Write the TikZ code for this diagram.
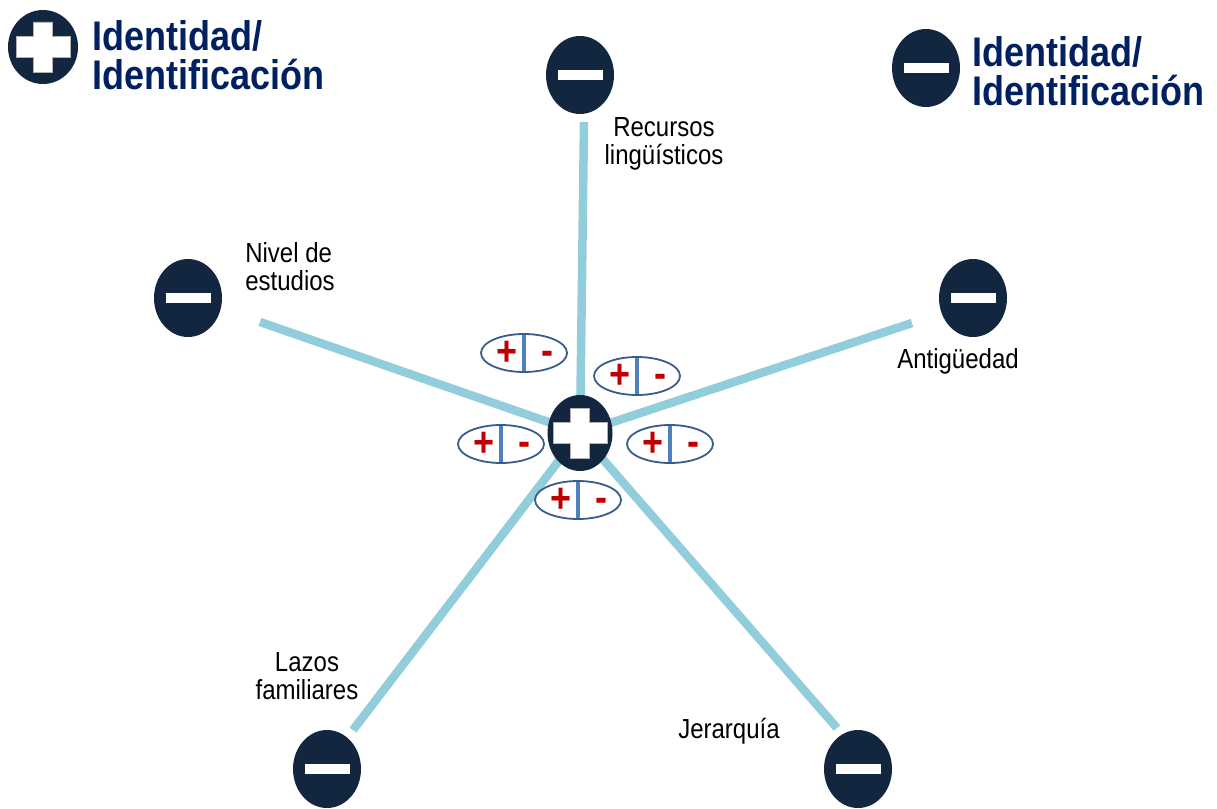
\documentclass[tikz,border=0pt]{standalone}
\usepackage{fontspec}
\setmainfont{Liberation Sans}
\usetikzlibrary{shapes.geometric}
\definecolor{idnavy}{RGB}{18,38,64}
\definecolor{idtitle}{RGB}{0,32,96}
\definecolor{idspoke}{RGB}{146,205,220}
\definecolor{idoval}{RGB}{56,93,138}
\definecolor{iddivide}{RGB}{79,129,189}
\definecolor{idred}{RGB}{192,0,0}

\begin{document}
\begin{tikzpicture}[x=1pt, y=-1pt,
        badge/.style={ellipse, fill=idnavy, inner sep=0pt, minimum width=68pt, minimum height=78pt},
        minusbadge/.style={badge, path picture={
            \fill[white, shift={(path picture bounding box.center)}] (-22.5,-5) rectangle (22.5,5);}},
        plusbadge/.style={badge, path picture={
            \filldraw[white, draw=gray!60, line width=0.6pt, shift={(path picture bounding box.center)}]
              (-9.5,-25) -- (9.5,-25) -- (9.5,-10.5) -- (27,-10.5) -- (27,10.5) -- (9.5,10.5)
              -- (9.5,25) -- (-9.5,25) -- (-9.5,10.5) -- (-27,10.5) -- (-27,-10.5) -- (-9.5,-10.5) -- cycle;}},
        pmoval/.style={ellipse, draw=idoval, line width=1.8pt, fill=white, inner sep=0pt,
            minimum width=86pt, minimum height=38pt, path picture={
            \draw[iddivide, line width=3.8pt] (path picture bounding box.north) -- (path picture bounding box.south);
            \node[text=idred, inner sep=0pt, yscale=1.15, font=\fontsize{36}{36}\selectfont\bfseries]
              at ([xshift=-17pt]path picture bounding box.center) {+};
            \node[text=idred, inner sep=0pt, yscale=1.15, font=\fontsize{36}{36}\selectfont\bfseries]
              at ([xshift=23pt,yshift=-4.5pt]path picture bounding box.center) {-};}},
        spoke/.style={idspoke, line width=8.5pt},
        lbl/.style={inner sep=0pt, align=center, yscale=1.15, font=\fontsize{24}{24.5}\selectfont},
        ttl/.style={inner sep=0pt, align=left, anchor=north west, yscale=1.15, text=idtitle,
            font=\fontsize{36}{34}\selectfont\bfseries}]
  \useasboundingbox (0,0) rectangle (1217,808);

  % legend
  \node[plusbadge, minimum width=70pt, minimum height=74pt] (plusleg) at (43,47) {};
  \node[ttl] (plustxt) at (92,20) {Identidad/\\Identificación};
  \node[minusbadge] (minusleg) at (926,68) {};
  \node[ttl] (minustxt) at (972,36) {Identidad/\\Identificación};

  % outer ends
  \node[minusbadge] (recmin) at (580,75) {};
  \node[minusbadge] (nivmin) at (188,298) {};
  \node[minusbadge] (antmin) at (973,298) {};
  \node[minusbadge] (lazmin) at (327,769) {};
  \node[minusbadge] (jermin) at (858,769) {};

  \coordinate (recend) at (584,122);
  \coordinate (nivend) at (260,322);
  \coordinate (antend) at (912,323);
  \coordinate (lazend) at (353,730);
  \coordinate (jerend) at (837,728);
  \coordinate (hubc) at (580,433);

  % spokes
  \foreach \e in {recend,nivend,antend,lazend,jerend}
    \draw[spoke] (\e) -- (hubc);

  \node[plusbadge, minimum width=65pt, minimum height=76pt] (hub) at (hubc) {};

  % scales
  \node[pmoval] (pmrec) at (524,353) {};
  \node[pmoval] (pmant) at (637,376) {};
  \node[pmoval] (pmniv) at (501,444) {};
  \node[pmoval] (pmjer) at (670,444) {};
  \node[pmoval] (pmlaz) at (578,500) {};

  % labels
  \node[lbl] (reclbl) at (664,144) {Recursos\\lingüísticos};
  \node[lbl, align=left] (nivlbl) at (290,267) {Nivel de\\estudios};
  \node[lbl] (antlbl) at (958,361) {Antigüedad};
  \node[lbl] (lazlbl) at (307,676) {Lazos\\familiares};
  \node[lbl] (jerlbl) at (729,731) {Jerarquía};
\end{tikzpicture}
\end{document}
